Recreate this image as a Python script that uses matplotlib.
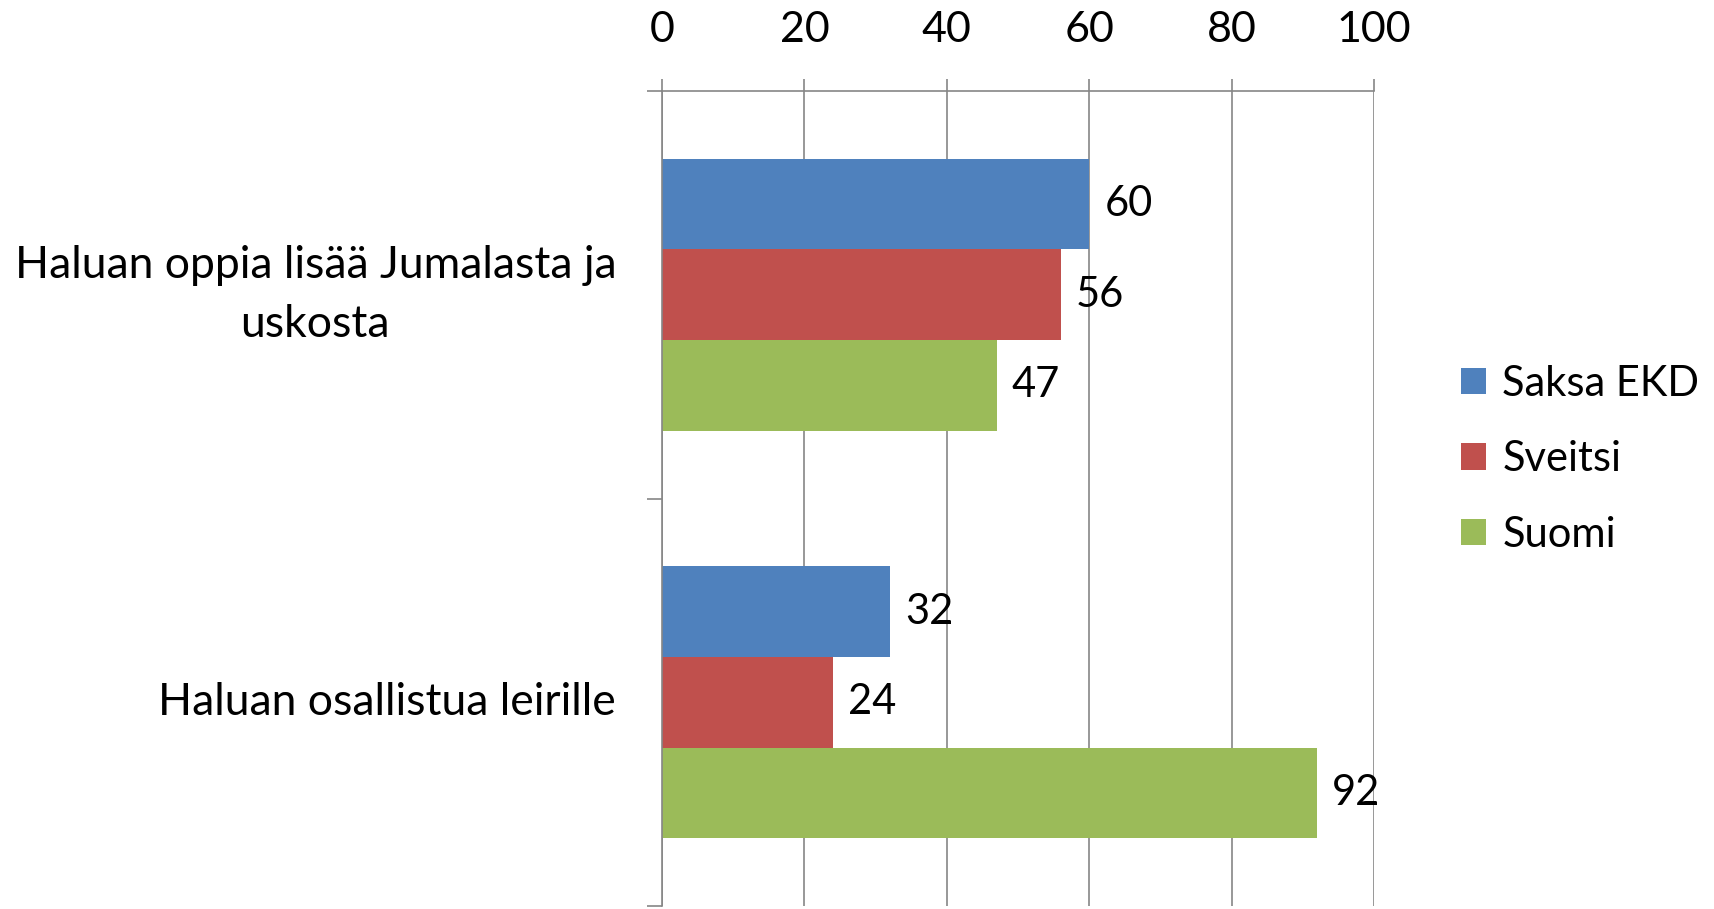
import numpy as np
import matplotlib.pyplot as plt

plt.rcParams['font.family'] = ['Lato', 'DejaVu Sans']

categories = ["Haluan oppia lisää Jumalasta ja\nuskosta", "Haluan osallistua leirille"]
series = ["Saksa EKD", "Sveitsi", "Suomi"]
values = {
    "Saksa EKD": [60, 32],
    "Sveitsi": [56, 24],
    "Suomi": [47, 92],
}
colors = ["#4F81BD", "#C0504D", "#9BBB59"]
xticks = [0, 20, 40, 60, 80, 100]

fig = plt.figure(figsize=(17.15, 9.09), dpi=100)
ax = fig.add_axes([662 / 1715, 3 / 909, (1374 - 662) / 1715, (906 - 91) / 909])

grey = "#868686"
h = 1 / 4.5
y = np.arange(len(categories))
for i, s in enumerate(series):
    pos = y + (i - 1) * h
    bars = ax.barh(pos, values[s], height=h, color=colors[i], label=s, zorder=2)
    for b, v in zip(bars, values[s]):
        ax.annotate(str(v), (v, b.get_y() + h / 2), xytext=(11, 0),
                    textcoords="offset points", va="center", ha="left",
                    fontsize=30, zorder=4)

ax.set_xlim(0, 100)
ax.set_ylim(1.5, -0.5)
ax.set_xticks(xticks)
ax.xaxis.tick_top()
ax.tick_params(axis="x", which="major", direction="out", length=9, width=1.2,
               color=grey, labelsize=31, pad=21)
ax.grid(axis="x", color=grey, linewidth=1.2, zorder=0)

ax.set_yticks([-0.5, 0.5, 1.5])
ax.set_yticklabels([])
ax.set_yticks(y, minor=True)
ax.set_yticklabels(categories, minor=True, fontsize=32, ha="right", va="center",
                   multialignment="center", linespacing=1.55)
ax.tick_params(axis="y", which="major", direction="out", length=11, width=1.2, color=grey)
ax.tick_params(axis="y", which="minor", length=0, pad=33)

for side in ["right", "bottom"]:
    ax.spines[side].set_visible(False)
for side in ["left", "top"]:
    ax.spines[side].set_color(grey)
    ax.spines[side].set_linewidth(1.2)

fig.legend(loc="center left", bbox_to_anchor=(1440 / 1715, 0.495), frameon=False,
           fontsize=30, handlelength=0.6, handleheight=0.6, handletextpad=0.4,
           labelspacing=0.9, borderpad=0)

fig.savefig("out.png", dpi=100)
